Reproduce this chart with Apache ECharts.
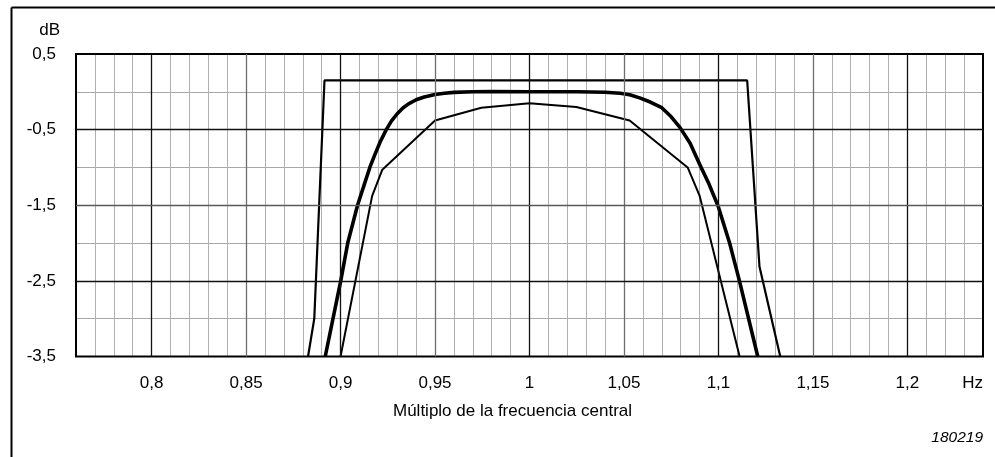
<!DOCTYPE html>
<html>
<head>
<meta charset="utf-8">
<script src="https://cdn.jsdelivr.net/npm/echarts@6/dist/echarts.min.js"></script>
<style>
html,body{margin:0;padding:0;background:#fff;}
#chart{width:995px;height:457px;}
</style>
</head>
<body>
<div id="chart"></div>
<script>
// ---- data ----
const limitUpperX = [0.8828, 0.8861, 0.8915, 1.1152, 1.1217, 1.1327];
const limitUpperY = [-3.5, -3.0, 0.15, 0.15, -2.31, -3.5];

const nominalX = [0.8919, 0.9001, 0.9038, 0.9090, 0.9125, 0.9155, 0.9180, 0.9210, 0.9242, 0.9270, 0.9300, 0.9330, 0.9360, 0.9400, 0.9443, 0.9500, 0.9550, 0.9600, 0.9700, 0.9800, 1.0000, 1.0250, 1.0400, 1.0480, 1.0530, 1.0583, 1.0639, 1.0700, 1.0750, 1.0796, 1.0850, 1.0901, 1.0950, 1.0998, 1.1059, 1.1112, 1.1208];
const nominalY = [-3.5, -2.5, -2.0, -1.5, -1.23, -1.0, -0.84, -0.66, -0.5, -0.385, -0.29, -0.215, -0.16, -0.105, -0.068, -0.035, -0.018, -0.008, 0.0, 0.005, 0.0, 0.0, -0.005, -0.018, -0.038, -0.08, -0.135, -0.21, -0.33, -0.47, -0.68, -0.96, -1.22, -1.51, -2.0, -2.51, -3.5];

const limitLowerX = [0.9000, 0.9167, 0.9221, 0.9500, 0.9745, 1.0000, 1.0248, 1.0530, 1.0837, 1.0901, 1.1112];
const limitLowerY = [-3.5, -1.38, -1.03, -0.38, -0.21, -0.15, -0.20, -0.38, -1.0, -1.38, -3.5];

const xLabelValues = [0.8, 0.85, 0.9, 0.95, 1, 1.05, 1.1, 1.15, 1.2];
const xLabelTexts = ['0,8', '0,85', '0,9', '0,95', '1', '1,05', '1,1', '1,15', '1,2'];
const yLabelValues = [0.5, -0.5, -1.5, -2.5, -3.5];
const yLabelTexts = ['0,5', '-0,5', '-1,5', '-2,5', '-3,5'];

const xMajorBlack = [0.8, 0.9, 1.0, 1.1, 1.2];
const xMajorGray = [0.85, 0.95, 1.05, 1.15];
const yMajorBlack = [-0.5, -2.5];
const yMajorGray = [-1.5];

const xAxisTitle = 'Múltiplo de la frecuencia central';
const xUnit = 'Hz';
const yUnit = 'dB';
const figureCode = '180219';

// ---- build ----
function pairs(xs, ys){ return xs.map((x,i)=>[x, ys[i]]); }
const FONT = '"Liberation Sans", Arial, sans-serif';
const FS = 17;

const chart = echarts.init(document.getElementById('chart'), null, {renderer:'canvas'});

const gridLeft = 76, gridTop = 54, gridW = 907, gridH = 302.5;

function markLines(){
  const d = [];
  xMajorGray.forEach(v=>d.push({xAxis:v, lineStyle:{color:'#6e6e6e', width:1.3, type:'solid'}}));
  xMajorBlack.forEach(v=>d.push({xAxis:v, lineStyle:{color:'#111', width:1.3, type:'solid'}}));
  yMajorGray.forEach(v=>d.push({yAxis:v, lineStyle:{color:'#5a5a5a', width:1.3, type:'solid'}}));
  yMajorBlack.forEach(v=>d.push({yAxis:v, lineStyle:{color:'#111', width:1.3, type:'solid'}}));
  return d;
}

const option = {
  animation:false,
  backgroundColor:'#fff',
  grid:{left:gridLeft, top:gridTop, width:gridW, height:gridH, show:true, borderColor:'#000', borderWidth:2, backgroundColor:'transparent', z:5},
  xAxis:{
    type:'value', min:0.76, max:1.24, interval:0.01,
    axisLine:{show:false}, axisTick:{show:false},
    splitLine:{show:true, lineStyle:{color:'#b0b0b0', width:1}},
    axisLabel:{
      margin:18, color:'#000', fontSize:FS, fontFamily:FONT,
      formatter:function(v){
        for (let i=0;i<xLabelValues.length;i++){ if (Math.abs(v-xLabelValues[i])<1e-6) return xLabelTexts[i]; }
        return '';
      }
    }
  },
  yAxis:{
    type:'value', min:-3.5, max:0.5, interval:0.5,
    axisLine:{show:false}, axisTick:{show:false},
    splitLine:{show:true, lineStyle:{color:'#a8a8a8', width:1}},
    axisLabel:{
      margin:20, color:'#000', fontSize:FS, fontFamily:FONT,
      formatter:function(v){
        for (let i=0;i<yLabelValues.length;i++){ if (Math.abs(v-yLabelValues[i])<1e-6) return yLabelTexts[i]; }
        return '';
      }
    }
  },
  series:[
    {type:'line', data:[], silent:true, z:1,
     markLine:{silent:true, symbol:'none', label:{show:false}, animation:false, data:markLines()}},
    {type:'line', name:'upper', data:pairs(limitUpperX, limitUpperY), showSymbol:false, z:3,
     lineStyle:{color:'#000', width:2.2}, smooth:false},
    {type:'line', name:'lower', data:pairs(limitLowerX, limitLowerY), showSymbol:false, z:3,
     lineStyle:{color:'#000', width:2}, smooth:false},
    {type:'line', name:'nominal', data:pairs(nominalX, nominalY), showSymbol:false, z:4,
     lineStyle:{color:'#000', width:3.6, join:'round'}, smooth:false}
  ],
  graphic:[
    {type:'line', shape:{x1:11.5, y1:7.5, x2:995, y2:7.5}, style:{stroke:'#000', lineWidth:2}, silent:true},
    {type:'line', shape:{x1:11.5, y1:7.5, x2:11.5, y2:457}, style:{stroke:'#000', lineWidth:2}, silent:true},
    {type:'text', x:60, y:30, style:{text:yUnit, font:FS+'px '+FONT, fill:'#000', textAlign:'right', textVerticalAlign:'middle'}},
    {type:'text', x:983, y:383, style:{text:xUnit, font:FS+'px '+FONT, fill:'#000', textAlign:'right', textVerticalAlign:'middle'}},
    {type:'text', x:393, y:411.5, style:{text:xAxisTitle, font:FS+'px '+FONT, fill:'#000', textAlign:'left', textVerticalAlign:'middle'}},
    {type:'text', x:983, y:437.5, style:{text:figureCode, font:'italic 15.5px '+FONT, fill:'#000', textAlign:'right', textVerticalAlign:'middle'}}
  ]
};
chart.setOption(option);
</script>
</body>
</html>
